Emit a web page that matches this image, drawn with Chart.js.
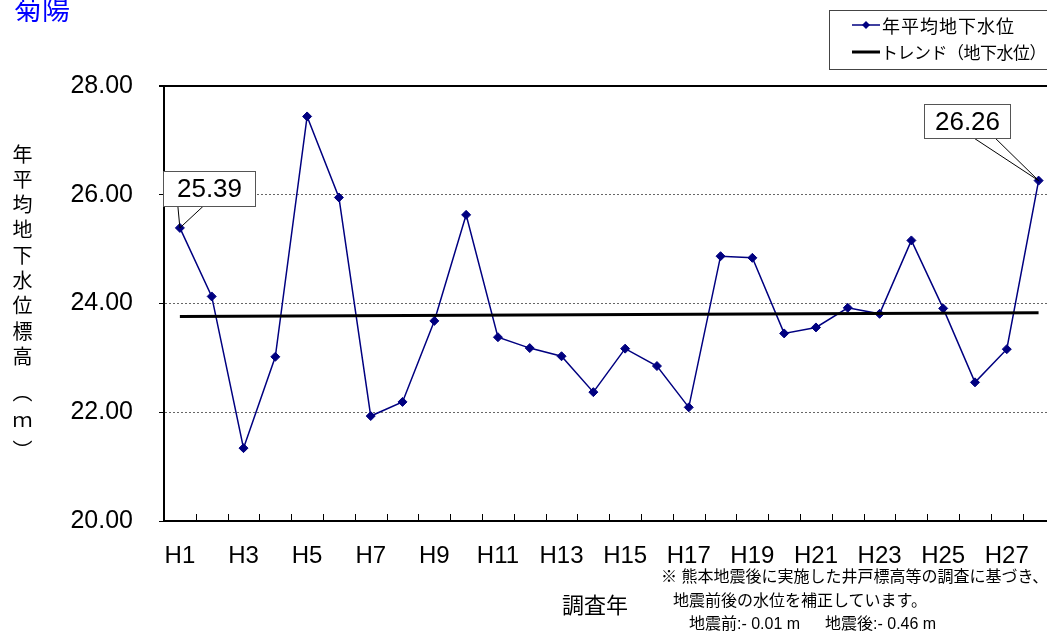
<!DOCTYPE html>
<html>
<head>
<meta charset="utf-8">
<script src="https://cdn.jsdelivr.net/npm/chart.js@4"></script>
<style>
  html, body { margin: 0; padding: 0; background: #fff; overflow: hidden; width: 1047px; height: 638px; }
  #wrap { position: relative; width: 1047px; height: 638px; overflow: hidden; }
  canvas { position: absolute; left: 0; top: 0; }
  .txt { position: absolute; white-space: nowrap; color: #000;
         font-family: "Liberation Sans", Arial, "Noto Sans CJK JP", sans-serif; }
  #titulo { left: 14px; top: -6px; font-size: 28px; line-height: 28px; color: #0000ff; font-family: "Noto Sans CJK JP", sans-serif; }
  #tituloY { left: 12px; top: 144px; font-size: 20px; line-height: 20px; letter-spacing: 5.3px;
             writing-mode: vertical-rl; text-orientation: upright; font-family: "Noto Sans CJK JP", sans-serif; }
  #tituloY span { margin-inline-start: 10px; letter-spacing: 9px; }
  #tituloX { left: 562px; top: 590px; font-size: 22px; line-height: 26px; font-family: "Noto Sans CJK JP", sans-serif; }
  .nota { font-size: 16px; line-height: 20px; }
</style>
</head>
<body>
<div id="wrap">
  <canvas id="grafico" width="1060" height="638"></canvas>
  <div class="txt" id="titulo">菊陽</div>
  <div class="txt" id="tituloY">年平均地下水位標高<span>（ｍ）</span></div>
  <div class="txt" id="tituloX">調査年</div>
  <div class="txt nota" style="left:661px; top:567px;">※ 熊本地震後に実施した井戸標高等の調査に基づき、</div>
  <div class="txt nota" style="left:673px; top:591px;">地震前後の水位を補正しています。</div>
  <div class="txt nota" style="left:689px; top:614px;">地震前:- 0.01 m　&nbsp;&nbsp;地震後:- 0.46 m</div>
</div>
<script>
// dados
var anos = ["H1", "H2", "H3", "H4", "H5", "H6", "H7", "H8", "H9", "H10",
            "H11", "H12", "H13", "H14", "H15", "H16", "H17", "H18", "H19", "H20",
            "H21", "H22", "H23", "H24", "H25", "H26", "H27", "H28"];
var nivelAgua = [25.39, 24.13, 21.34, 23.02, 27.44, 25.95, 21.93, 22.19, 23.68, 25.63,
                 23.38, 23.18, 23.03, 22.37, 23.17, 22.85, 22.09, 24.87, 24.84, 23.45,
                 23.56, 23.92, 23.81, 25.16, 23.91, 22.55, 23.16, 26.26];
var tendenciaAnos = ["H1", "H28"];
var tendenciaValores = [23.76, 23.83];
var ticksY = [20, 22, 24, 26, 28];
var indicesRotulo = [0, 27];

var fonteNum = "'Liberation Sans', Arial, 'Noto Sans CJK JP', sans-serif";
var fonteJp = "'Noto Sans CJK JP', sans-serif";
var azul = "#000080";

// monta os pontos da linha de tendência
var pontosTendencia = [];
for (var i = 0; i < tendenciaAnos.length; i++) {
  pontosTendencia.push({ x: tendenciaAnos[i], y: tendenciaValores[i] });
}

// marquinhas do eixo x para dentro do gráfico
var marcasX = {
  id: "marcasX",
  beforeDatasetsDraw: function(chart) {
    var ctx = chart.ctx;
    var x = chart.scales.x;
    var baixo = chart.chartArea.bottom;
    ctx.save();
    ctx.strokeStyle = "#000";
    ctx.lineWidth = 1;
    for (var i = 1; i < anos.length; i++) {
      var px = Math.round((x.getPixelForValue(i - 1) + x.getPixelForValue(i)) / 2) + 0.5;
      ctx.beginPath();
      ctx.moveTo(px, baixo);
      ctx.lineTo(px, baixo - 7);
      ctx.stroke();
    }
    ctx.restore();
  }
};

// caixinhas com o valor do primeiro e do último ano
var rotulos = {
  id: "rotulos",
  afterDatasetsDraw: function(chart) {
    var ctx = chart.ctx;
    var meta = chart.getDatasetMeta(0);
    // deslocamento da caixa e das pernas em relação ao ponto
    var formas = [
      { dx: -17, dy: -57, w: 92, h: 35, p1: -2, p2: 23 },
      { dx: -115, dy: -77, w: 86, h: 34, p1: -64, p2: -43 }
    ];
    ctx.save();
    for (var k = 0; k < indicesRotulo.length; k++) {
      var idx = indicesRotulo[k];
      var pt = meta.data[idx];
      var f = formas[k];
      var bx = Math.round(pt.x + f.dx) + 0.5;
      var by = Math.round(pt.y + f.dy) + 0.5;
      ctx.strokeStyle = "#000";
      ctx.lineWidth = 1;
      ctx.beginPath();
      ctx.moveTo(pt.x + f.p1, by + f.h);
      ctx.lineTo(pt.x, pt.y);
      ctx.lineTo(pt.x + f.p2, by + f.h);
      ctx.stroke();
      ctx.fillStyle = "#fff";
      ctx.fillRect(bx, by, f.w, f.h);
      ctx.strokeStyle = "#555";
      ctx.strokeRect(bx, by, f.w, f.h);
      ctx.fillStyle = "#000";
      ctx.font = "26px " + fonteNum;
      ctx.textAlign = "center";
      ctx.textBaseline = "middle";
      ctx.fillText(nivelAgua[idx].toFixed(2), bx + f.w / 2, by + f.h / 2 + 1);
    }
    ctx.restore();
  }
};

// legenda com moldura no canto superior direito
var legenda = {
  id: "legenda",
  afterDraw: function(chart) {
    var ctx = chart.ctx;
    var ds = chart.data.datasets;
    ctx.save();
    ctx.strokeStyle = "#444";
    ctx.lineWidth = 1;
    ctx.strokeRect(829.5, 10.5, 300, 59);

    // série 1
    ctx.strokeStyle = ds[0].borderColor;
    ctx.lineWidth = 1.5;
    ctx.beginPath();
    ctx.moveTo(852, 25);
    ctx.lineTo(880, 25);
    ctx.stroke();
    ctx.fillStyle = ds[0].borderColor;
    ctx.beginPath();
    ctx.moveTo(866, 21);
    ctx.lineTo(870, 25);
    ctx.lineTo(866, 29);
    ctx.lineTo(862, 25);
    ctx.closePath();
    ctx.fill();

    // série 2
    ctx.strokeStyle = ds[1].borderColor;
    ctx.lineWidth = 3;
    ctx.beginPath();
    ctx.moveTo(852, 52);
    ctx.lineTo(880, 52);
    ctx.stroke();

    ctx.fillStyle = "#000";
    ctx.textAlign = "left";
    ctx.textBaseline = "middle";
    ctx.font = "18px " + fonteJp;
    ctx.letterSpacing = "1px";
    ctx.fillText(ds[0].label, 882, 26);
    ctx.font = "17px " + fonteJp;
    ctx.letterSpacing = "-0.5px";
    ctx.fillText(ds[1].label, 881, 53);
    ctx.restore();
  }
};

var ctx = document.getElementById("grafico").getContext("2d");

var grafico = new Chart(ctx, {
  type: "line",
  data: {
    labels: anos,
    datasets: [
      {
        label: "年平均地下水位",
        data: nivelAgua,
        borderColor: azul,
        backgroundColor: azul,
        borderWidth: 1.5,
        pointStyle: "rectRot",
        pointRadius: 4.5,
        pointBackgroundColor: azul,
        pointBorderColor: azul,
        pointBorderWidth: 1,
        tension: 0,
        fill: false,
        order: 1
      },
      {
        label: "トレンド（地下水位）",
        data: pontosTendencia,
        borderColor: "#000",
        borderWidth: 3,
        pointRadius: 0,
        tension: 0,
        fill: false,
        order: 0
      }
    ]
  },
  options: {
    responsive: false,
    animation: false,
    layout: { padding: { top: 86, left: 0, right: 3, bottom: 0 } },
    plugins: {
      legend: { display: false },
      tooltip: { enabled: false }
    },
    scales: {
      x: {
        type: "category",
        offset: true,
        grid: { display: false },
        border: { display: true, color: "#000", width: 2 },
        ticks: {
          autoSkip: false,
          maxRotation: 0,
          color: "#000",
          padding: 13,
          font: { size: 24, family: fonteNum },
          callback: function(v, i) {
            return i % 2 === 0 ? anos[i] : "";
          }
        },
        afterFit: function(scale) { scale.height = 117; }
      },
      y: {
        min: 20,
        max: 28,
        afterBuildTicks: function(scale) {
          scale.ticks = ticksY.map(function(v) { return { value: v }; });
        },
        grid: {
          color: function(c) {
            return (c.tick && (c.tick.value === 28 || c.tick.value === 20)) ? "#000" : "#666";
          },
          lineWidth: function(c) {
            return (c.tick && c.tick.value === 28) ? 2 : 1;
          },
          tickColor: "#000",
          tickLength: 5
        },
        border: {
          display: true,
          color: "#000",
          width: 2,
          dash: function(c) {
            return (c.tick && (c.tick.value === 28 || c.tick.value === 20)) ? [] : [2, 2];
          }
        },
        ticks: {
          color: "#000",
          padding: 26,
          font: { size: 25, family: fonteNum },
          callback: function(v) { return Number(v).toFixed(2); }
        },
        afterFit: function(scale) { scale.width = 164; }
      }
    }
  },
  plugins: [marcasX, rotulos, legenda]
});
</script>
</body>
</html>
